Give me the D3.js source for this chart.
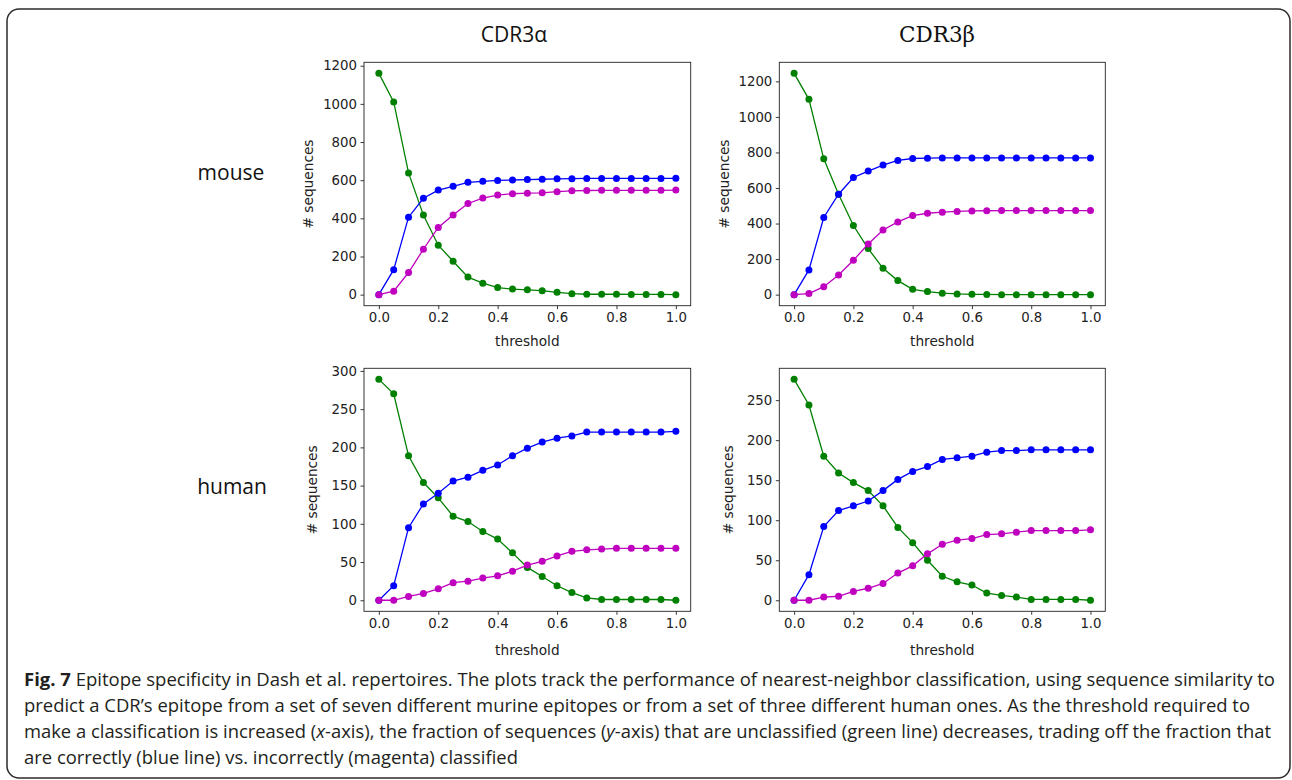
<!DOCTYPE html>
<html>
<head>
<meta charset="utf-8">
<script src="https://cdn.jsdelivr.net/npm/d3@7"></script>
<style>
  body { margin: 0; background: #fff; }
  svg { display: block; }
</style>
</head>
<body>
<svg id="fig" width="1292" height="780"></svg>
<script>
(()=>{

//thresholds on the x axis (0.0 .. 1.0 in steps of 0.05)
const thresholds = [0,0.05,0.1,0.15,0.2,0.25,0.3,0.35,0.4,0.45,0.5,0.55,0.6,0.65,0.7,0.75,0.8,0.85,0.9,0.95,1.0];

//CDR3 alpha, mouse
const mouseAlphaUnclassified = [1160,1010,638,417,259,175,92,60,37,29,25,21,12,5,2,2,2,1,1,1,0];
const mouseAlphaCorrect      = [0,131,406,505,548,568,589,594,599,601,603,605,607,608,609,609,609,609,609,609,610];
const mouseAlphaIncorrect    = [0,18,116,238,352,417,478,506,522,529,532,534,540,544,546,547,547,547,547,547,548];

//CDR3 beta, mouse
const mouseBetaUnclassified = [1245,1099,764,565,389,259,148,79,30,17,8,4,2,1,0,0,0,0,0,0,0];
const mouseBetaCorrect      = [0,139,434,565,659,695,729,755,766,768,769,769,769,769,769,769,769,769,769,769,769];
const mouseBetaIncorrect    = [0,6,45,111,193,285,364,409,445,458,464,468,471,472,473,473,473,473,473,473,473];

//CDR3 alpha, human
const humanAlphaUnclassified = [289,270,189,154,134,110,103,90,80,62,43,31,19,10,3,1,1,1,1,1,0];
const humanAlphaCorrect      = [0,19,95,126,140,156,161,170,177,189,199,207,212,215,220,220,220,220,220,220,221];
const humanAlphaIncorrect    = [0,0,5,9,15,23,25,29,32,38,46,51,58,64,66,67,68,68,68,68,68];

//CDR3 beta, human
const humanBetaUnclassified = [276,244,180,159,147,137,118,91,72,50,30,23,19,9,6,4,1,1,1,1,0];
const humanBetaCorrect      = [0,32,92,112,118,124,137,151,161,167,176,178,180,185,187,187,188,188,188,188,188];
const humanBetaIncorrect    = [0,0,4,5,11,15,21,34,43,58,70,75,77,82,83,85,87,87,87,87,88];

//tick labels
const xTicks = [0,0.2,0.4,0.6,0.8,1.0];
const yTicksMouse = [0,200,400,600,800,1000,1200];
const yTicksHumanAlpha = [0,50,100,150,200,250,300];
const yTicksHumanBeta = [0,50,100,150,200,250];

//headers
const columnTitles = ["CDR3α","CDR3β"];
const rowTitles = ["mouse","human"];

//caption lines
const captionLines = [
	[{t:"Fig. 7",b:true},{t:" Epitope specificity in Dash et al. repertoires. The plots track the performance of nearest-neighbor classification, using sequence similarity to"}],
	[{t:"predict a CDR’s epitope from a set of seven different murine epitopes or from a set of three different human ones. As the threshold required to"}],
	[{t:"make a classification is increased ("},{t:"x",i:true},{t:"-axis), the fraction of sequences ("},{t:"y",i:true},{t:"-axis) that are unclassified (green line) decreases, trading off the fraction that"}],
	[{t:"are correctly (blue line) vs. incorrectly (magenta) classified"}]
];

//colors (matplotlib g, b, m)
const colGreen = "#008000", colBlue = "#0000ff", colMagenta = "#bf00bf";

//layout
const cols = [{x0:364, x1:690.7}, {x0:779.3, x1:1105.3}];
const rows = [{y0:62.3, y1:305.7, xlab:345.5}, {y0:368.3, y1:611.3, xlab:654.5}];

const panels = [
	{row:0, col:0, yTicks:yTicksMouse, ylabOff:51, series:[mouseAlphaUnclassified, mouseAlphaCorrect, mouseAlphaIncorrect]},
	{row:0, col:1, yTicks:yTicksMouse, ylabOff:50, series:[mouseBetaUnclassified, mouseBetaCorrect, mouseBetaIncorrect]},
	{row:1, col:0, yTicks:yTicksHumanAlpha, ylabOff:47, series:[humanAlphaUnclassified, humanAlphaCorrect, humanAlphaIncorrect]},
	{row:1, col:1, yTicks:yTicksHumanBeta, ylabOff:46, series:[humanBetaUnclassified, humanBetaCorrect, humanBetaIncorrect]}
];
const seriesColors = [colGreen, colBlue, colMagenta];

let svg = d3.select("#fig");

//outer frame
svg.append("rect")
	.attr("x", 7).attr("y", 9)
	.attr("width", 1283).attr("height", 769)
	.attr("rx", 12).attr("ry", 12)
	.attr("fill", "#fff")
	.attr("stroke", "#2b2b2b")
	.attr("stroke-width", 1.5);

//column titles
svg.append("text")
	.attr("x", 514).attr("y", 42)
	.attr("text-anchor", "middle")
	.style("font-family", "'Open Sans', sans-serif")
	.style("font-size", "21px")
	.attr("fill", "#111")
	.text(columnTitles[0]);
svg.append("text")
	.attr("x", 937).attr("y", 42)
	.attr("text-anchor", "middle")
	.style("font-family", "'DejaVu Serif', serif")
	.style("font-size", "21.5px")
	.attr("fill", "#111")
	.text(columnTitles[1]);

//row titles
svg.append("text")
	.attr("x", 231).attr("y", 180)
	.attr("text-anchor", "middle")
	.style("font-family", "'Open Sans', sans-serif")
	.style("font-size", "21px")
	.attr("fill", "#111")
	.text(rowTitles[0]);
svg.append("text")
	.attr("x", 232).attr("y", 494)
	.attr("text-anchor", "middle")
	.style("font-family", "'Open Sans', sans-serif")
	.style("font-size", "21px")
	.attr("fill", "#111")
	.text(rowTitles[1]);

//panels
panels.forEach(p => {
	let c = cols[p.col], r = rows[p.row];
	let all = d3.merge(p.series);
	let lo = d3.min(all), hi = d3.max(all), pad = (hi-lo)*0.05;

	let x = d3.scaleLinear().domain([-0.05, 1.05]).range([c.x0, c.x1]);
	let y = d3.scaleLinear().domain([lo-pad, hi+pad]).range([r.y1, r.y0]);

	let g = svg.append("g");

	//x axis
	let gx = g.append("g")
		.attr("transform", "translate(0,"+r.y1+")")
		.call(d3.axisBottom(x).tickValues(xTicks).tickFormat(d3.format(".1f")).tickSize(3.5).tickPadding(3.5));
	//y axis
	let gy = g.append("g")
		.attr("transform", "translate("+c.x0+",0)")
		.call(d3.axisLeft(y).tickValues(p.yTicks).tickFormat(d3.format("d")).tickSize(3.5).tickPadding(3.5));

	[gx, gy].forEach(a => {
		a.select(".domain").remove();
		a.selectAll("line").attr("stroke", "#222").attr("stroke-width", 0.9);
		a.selectAll("text")
			.style("font-family", "'DejaVu Sans', sans-serif")
			.style("font-size", "13.3px")
			.attr("fill", "#222");
	});

	//frame
	g.append("rect")
		.attr("x", c.x0).attr("y", r.y0)
		.attr("width", c.x1-c.x0).attr("height", r.y1-r.y0)
		.attr("fill", "none")
		.attr("stroke", "#222")
		.attr("stroke-width", 0.9);

	//axis labels
	g.append("text")
		.attr("x", (c.x0+c.x1)/2).attr("y", r.xlab)
		.attr("text-anchor", "middle")
		.style("font-family", "'DejaVu Sans', sans-serif")
		.style("font-size", "13.7px")
		.attr("fill", "#222")
		.text("threshold");
	g.append("text")
		.attr("transform", "translate("+(c.x0-p.ylabOff)+","+((r.y0+r.y1)/2)+") rotate(-90)")
		.attr("text-anchor", "middle")
		.style("font-family", "'DejaVu Sans', sans-serif")
		.style("font-size", "13.7px")
		.attr("fill", "#222")
		.text("# sequences");

	//lines and markers
	let line = d3.line().x((d,i) => x(thresholds[i])).y(d => y(d));
	p.series.forEach((s, k) => {
		g.append("path")
			.datum(s)
			.attr("d", line)
			.attr("fill", "none")
			.attr("stroke", seriesColors[k])
			.attr("stroke-width", 1.3);
		g.selectAll(".dot"+k)
			.data(s)
			.enter().append("circle")
			.attr("class", "dot"+k)
			.attr("cx", (d,i) => x(thresholds[i]))
			.attr("cy", d => y(d))
			.attr("r", 3.5)
			.attr("fill", seriesColors[k]);
	});
});

//caption
const captionX = 24, captionY0 = 686, captionStep = 26;
const captionWidths = [1251, 1226, 1247, 494];
captionLines.forEach((parts, li) => {
	let t = svg.append("text")
		.attr("x", captionX)
		.attr("y", captionY0 + li*captionStep)
		.attr("textLength", captionWidths[li])
		.attr("lengthAdjust", "spacingAndGlyphs")
		.style("font-family", "'Open Sans', sans-serif")
		.style("font-size", "18px")
		.attr("fill", "#231f20");
	parts.forEach(pt => {
		t.append("tspan")
			.attr("font-weight", pt.b ? "bold" : null)
			.attr("font-style", pt.i ? "italic" : null)
			.text(pt.t);
	});
});

})();
</script>
</body>
</html>
